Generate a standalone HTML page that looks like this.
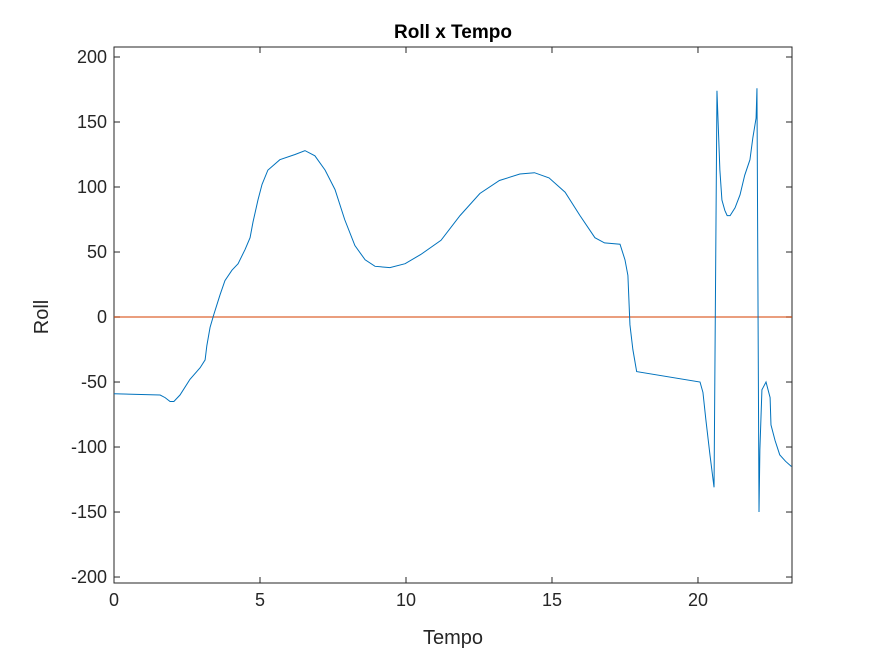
<!DOCTYPE html>
<html><head><meta charset="utf-8"><style>
body{margin:0;background:#fff;}
svg{display:block;font-family:"Liberation Sans",sans-serif;}
</style></head><body>
<svg id="chart" width="875" height="656"></svg>
<script>
const tempo=[0,1.58,1.75,1.92,2.05,2.26,2.6,2.95,3.12,3.18,3.29,3.42,3.63,3.8,4.04,4.25,4.49,4.66,4.76,4.93,5.07,5.27,5.68,6.2,6.54,6.88,7.23,7.57,7.9,8.25,8.6,8.94,9.45,9.97,10.5,11.2,11.85,12.53,13.2,13.9,14.4,14.9,15.45,15.96,16.47,16.8,17.33,17.5,17.6,17.67,17.77,17.9,20.07,20.17,20.27,20.41,20.55,20.65,20.75,20.82,20.92,21.0,21.1,21.27,21.44,21.6,21.78,21.88,21.99,22.02,22.09,22.12,22.19,22.33,22.47,22.5,22.64,22.8,23.0,23.2];
const roll=[-59,-60,-62,-65,-65,-60,-48,-39,-33,-22,-8,2,17,28,36,41,52,61,73,90,102,113,121,125,128,124,113,98,75,55,44,39,38,41,48,59,78,95,105,110,111,107,96,78,61,57,56,44,32,-6,-25,-42,-50,-58,-79,-106,-131,174,113,90,82,78,78,84,94,109,121,138,153,176,-150,-102,-56,-50,-62,-83,-95,-106,-111,-115];
const xTicks=[0,5,10,15,20];
const yTicks=[-200,-150,-100,-50,0,50,100,150,200];
const L=114,R=792,T=47,B=583,xmax=23.22,ymin=-204.6,ymax=207.7;
const X=v=>L+v/xmax*(R-L), Y=v=>B-(v-ymin)/(ymax-ymin)*(B-T);
const svg=document.getElementById('chart'),NS='http://www.w3.org/2000/svg';
function mk(t,a,p){const e=document.createElementNS(NS,t);for(const k in a)e.setAttribute(k,a[k]);(p||svg).appendChild(e);return e;}
const box=mk('rect',{x:L,y:T,width:R-L,height:B-T,fill:'#fff',stroke:'#262626','stroke-width':1});


xTicks.forEach(v=>{const x=X(v);
mk('line',{x1:x,x2:x,y1:B,y2:B-6,stroke:'#262626'});mk('line',{x1:x,x2:x,y1:T,y2:T+6,stroke:'#262626'});
const t=mk('text',{x:x,y:B+23,'text-anchor':'middle','font-size':18,fill:'#262626'});t.textContent=v;

});
yTicks.forEach(v=>{const y=Y(v);
mk('line',{x1:L,x2:L+6,y1:y,y2:y,stroke:'#262626'});mk('line',{x1:R,x2:R-6,y1:y,y2:y,stroke:'#262626'});
const t=mk('text',{x:L-7,y:y+6,'text-anchor':'end','font-size':18,fill:'#262626'});t.textContent=v;

});
const z=mk('line',{x1:L,x2:R,y1:Y(0),y2:Y(0),stroke:'#D95319','stroke-opacity':0.75,'stroke-width':1.5});


const p=mk('polyline',{points:tempo.map((t,i)=>X(t)+','+Y(roll[i])).join(' '),fill:'none',stroke:'#0072BD','stroke-width':1});


const ti=mk('text',{x:453,y:38,'text-anchor':'middle','font-size':19,'font-weight':'bold',fill:'#000'});ti.textContent='Roll x Tempo';


const xl=mk('text',{x:453,y:644,'text-anchor':'middle','font-size':20,fill:'#262626'});xl.textContent='Tempo';


const yl=mk('text',{x:0,y:0,'text-anchor':'middle','font-size':20,fill:'#262626',transform:'translate(48,317) rotate(-90)'});yl.textContent='Roll';


</script>
</body></html>
